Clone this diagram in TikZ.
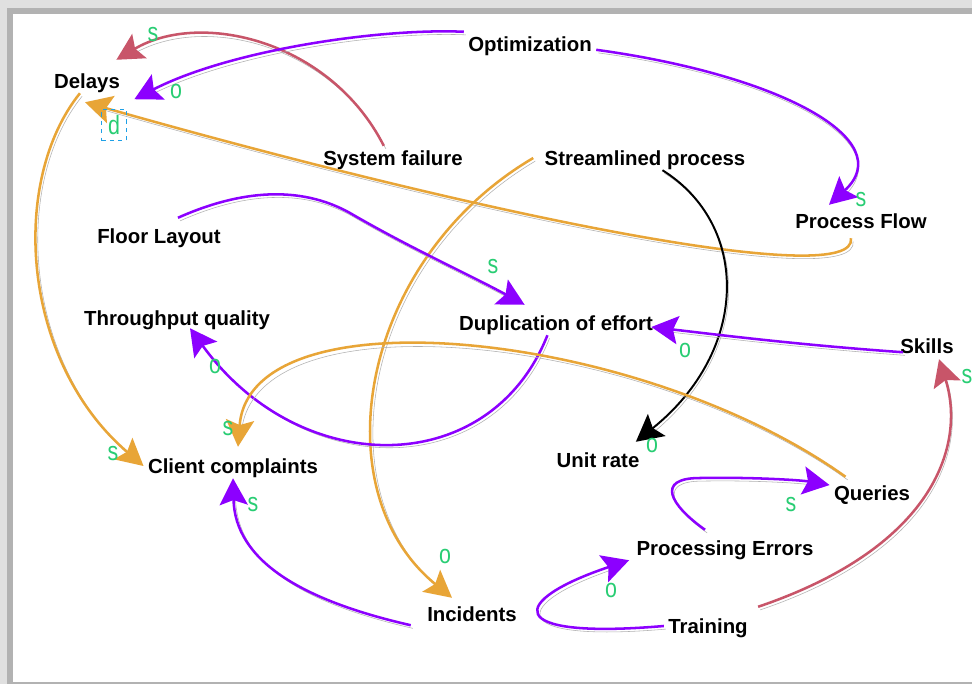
\documentclass[tikz,border=0pt]{standalone}
\usepackage{fontspec}
\usepackage{graphicx}
\usepackage{xcolor}
\setmainfont{Liberation Sans}
\usetikzlibrary{arrows.meta}
\definecolor{vio}{RGB}{140,0,255}
\definecolor{ora}{RGB}{232,165,55}
\definecolor{ros}{RGB}{200,85,105}
\definecolor{sgngreen}{RGB}{40,205,115}
\definecolor{selcyan}{RGB}{30,160,230}
\newcommand{\sgn}[1]{\scalebox{1.05}[1.3]{#1}}

\begin{document}
\begin{tikzpicture}[x=0.025cm,y=-0.025cm,
  var/.style={font=\fontsize{14.5}{16}\selectfont\bfseries,inner sep=3pt,text height=11pt,text depth=0pt},
  sg/.style={text=sgngreen,font=\fontsize{14.5}{14}\selectfont,inner sep=0pt},
  shd/.style={preaction={draw=black!30,arrows=-,shorten >=12pt,transform canvas={shift={(1.5pt,-2.2pt)}}}},
  lnk/.style={line width=1.8pt,-{Stealth[length=19pt,width=20pt,inset=3.5pt]},shd},
  pu/.style={lnk,draw=vio},og/.style={lnk,draw=ora},pk/.style={lnk,draw=ros},
  bk/.style={lnk,draw=black,line width=1.4pt}]
\useasboundingbox (0,0) rectangle (972,684);
\fill[black!12] (0,0) rectangle (972,684);\fill[black!30] (7,8) rectangle (972,684);\fill[white] (13,14) rectangle (972,682);
\node[var] (dl) at (87,81) {Delays};
\node[var] (op) at (530,44) {Optimization};
\node[var] (sf) at (393,158) {System failure};
\node[var] (st) at (645,158) {Streamlined process};
\node[var] (pf) at (861,221) {Process Flow};
\node[var] (fl) at (159,236) {Floor Layout};
\node[var] (tq) at (177,318) {Throughput quality};
\node[var] (du) at (556,323) {Duplication of effort};
\node[var] (sk) at (927,346) {Skills};
\node[var] (cc) at (233,466) {Client complaints};
\node[var] (ur) at (598,460) {Unit rate};
\node[var] (qu) at (872,493) {Queries};
\node[var] (pe) at (725,548) {Processing Errors};
\node[var] (inc) at (472,614) {Incidents};
\node[var] (tr) at (708,626) {Training};
\draw[pk] (sf.127) .. controls (330,40) and (200,10) .. ([shift={(-8,-9)}]dl.north east);
\draw[pu] (op.north west) .. controls (380,28) and (230,50) .. ([shift={(10,6)}]dl.south east);
\draw[og] ([shift={(-10,5)}]pf.south) .. controls (858,290) and (500,220) .. ([shift={(-2,9)}]dl.south);
\draw[pu] (op.-5) .. controls (780,75) and (900,140) .. ([shift={(-32,-4)}]pf.north);
\draw[og] ([shift={(-7,0)}]st.west) .. controls (360,260) and (320,490) .. ([shift={(-20,-4)}]inc.north);
\draw[bk] (st.-35) .. controls (750,225) and (750,350) .. ([shift={(-8,-6)}]ur.north east);
\draw[pu] ([shift={(19,-6)}]fl.north) .. controls (240,190) and (300,185) .. (350,213) .. controls (410,248) and (470,275) .. ([shift={(70,-6)}]du.north west);
\draw[pu] ([shift={(7,-6)}]sk.south west) .. controls (800,345) and (720,335) .. ([shift={(-6,4)}]du.east);
\draw[pu] (du.-125) .. controls (490,480) and (300,480) .. ([shift={(13,-2)}]tq.south);
\draw[og] ([shift={(16,-4)}]qu.north west) .. controls (640,330) and (250,290) .. ([shift={(5,-7)}]cc.north);
\draw[og] (dl.-120) .. controls (10,180) and (20,360) .. (cc.west);
\draw[pu] ([shift={(-12,-1)}]inc.south west) .. controls (300,600) and (235,560) .. (cc.south);
\draw[pu] ([shift={(-20,-6)}]pe.north) .. controls (670,505) and (655,478) .. (700,478) .. controls (750,477) and (800,480) .. ([shift={(0,-8)}]qu.west);
\draw[pu] (tr.west) .. controls (500,640) and (510,600) .. ([shift={(-3,0)}]pe.south west);
\draw[pk] ([shift={(6,-7)}]tr.north east) .. controls (940,545) and (965,440) .. ([shift={(12,1)}]sk.south);
\foreach \x/\y/\t [count=\i] in {153/35/s,176/91/o,861/200/s,445/556/o,652/445/o,493/267/s,685/350/o,215/366/o,228/429/s,113/454/s,253/505/s,791/505/s,611/590/o,967/377/s}
  {\node[sg] (l\i) at (\x,\y) {\sgn{\t}};}
\node[sg,draw=selcyan,dashed,line width=0.7pt,minimum width=18pt,minimum height=22pt] (ld) at (114,125) {\sgn{d}};
\end{tikzpicture}
\end{document}
